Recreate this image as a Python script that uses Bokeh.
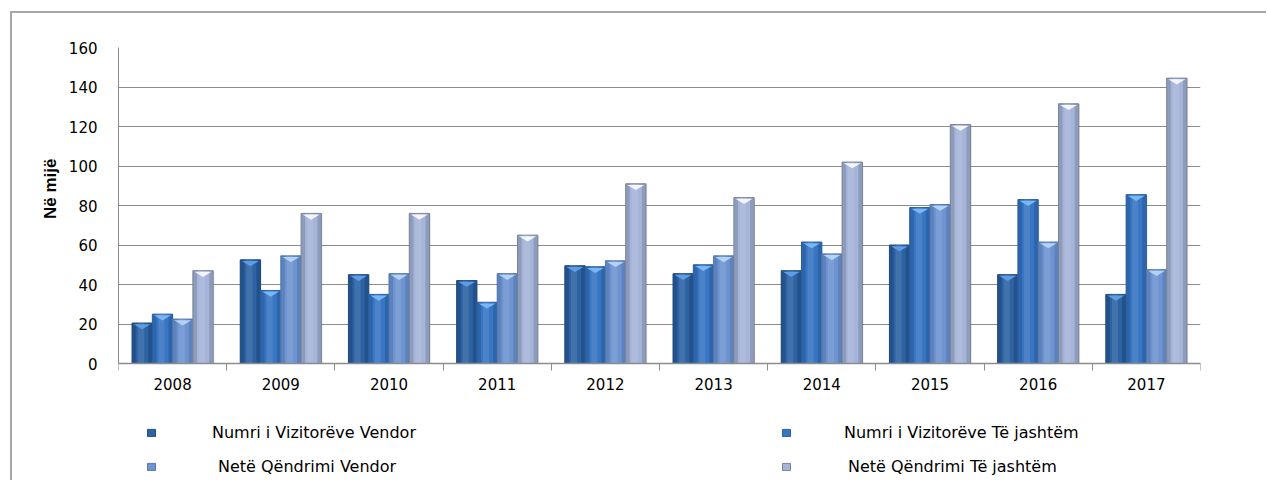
from bokeh.plotting import figure
from bokeh.models import Range1d, FixedTicker, Legend, LegendItem, Title
from bokeh.embed import file_html
from bokeh.resources import INLINE

# ---- data ----
years = ["2008", "2009", "2010", "2011", "2012", "2013", "2014", "2015", "2016", "2017"]
vizitore_vendor = [20.5, 52.5, 45, 42, 49.5, 45.5, 47, 60, 45, 35]
vizitore_jashtem = [25, 37, 35, 31, 49, 50, 61.5, 79, 83, 85.5]
qendrimi_vendor = [22.5, 54.5, 45.5, 45.5, 52, 54.5, 55.5, 80.5, 61.5, 47.5]
qendrimi_jashtem = [47, 76, 76, 65, 91, 84, 102, 121, 131.5, 144.5]
series_names = ["Numri i Vizitorëve Vendor", "Numri i Vizitorëve Të jashtëm",
                "Netë Qëndrimi Vendor", "Netë Qëndrimi Të jashtëm"]
y_ticks = [0, 20, 40, 60, 80, 100, 120, 140, 160]
y_label = "Në mijë"

# ---- styles ----
base_colors = ["#2D62A3", "#3875C2", "#6D94D0", "#A5B4D8"]
edge_colors = ["#183E6E", "#22528F", "#4A6CA3", "#737F99"]
tri_colors = ["#5E9DE6", "#78B6F4", "#B4D2F4", "#F2F6FC"]
outline_colors = ["#234E85", "#2C62A6", "#5779AE", "#7A8499"]
GRID = "#8c8c8c"
FONT = "DejaVu Sans"

# layout (pixels on the canvas)
CANVAS_W, CANVAS_H = 1256, 469
FRAME_TOP, FRAME_BOTTOM = 34, 466
ZERO_PX = 350  # where value 0 sits
Y_MAX = 160
px_per_unit = (ZERO_PX - FRAME_TOP) / Y_MAX
y_start = -(FRAME_BOTTOM - ZERO_PX) / px_per_unit

n = len(years)
centers = [i + 0.5 for i in range(n)]
bar_w = 0.1875
offsets = [-1.5 * bar_w, -0.5 * bar_w, 0.5 * bar_w, 1.5 * bar_w]

p = figure(width=CANVAS_W, height=CANVAS_H, output_backend="svg", toolbar_location=None,
           x_range=Range1d(0, n), y_range=Range1d(y_start, Y_MAX),
           min_border_left=106, min_border_right=68, min_border_top=FRAME_TOP,
           min_border_bottom=CANVAS_H - FRAME_BOTTOM)
p.margin = (11, 0, 0, 10)
p.styles = {"border-top": "2px solid #a6a6a6", "border-left": "2px solid #a6a6a6"}
p.outline_line_color = None
p.background_fill_color = "white"
p.border_fill_color = "white"

# grid
p.xgrid.grid_line_color = None
p.ygrid.grid_line_color = GRID
p.ygrid.grid_line_width = 1
p.ygrid.ticker = FixedTicker(ticks=y_ticks)

# y axis
p.yaxis.ticker = FixedTicker(ticks=y_ticks)
p.yaxis.bounds = (0, Y_MAX)
p.yaxis.axis_line_color = GRID
p.yaxis.major_tick_line_color = None
p.yaxis.minor_tick_line_color = None
p.yaxis.major_tick_out = 0
p.yaxis.major_tick_in = 0
p.yaxis.major_label_standoff = 21
p.yaxis.major_label_text_font = FONT
p.yaxis.major_label_text_font_size = "15px"
p.yaxis.major_label_text_color = "black"

# y axis title, placed near the upper half like the reference
ytitle = Title(text=y_label, align="right", offset=111, vertical_align="middle",
               text_font="Liberation Sans", text_font_style="bold",
               text_font_size="17px", text_color="black")
p.add_layout(ytitle, "left")

# x axis at value 0: labels at centers, tick marks at category boundaries
p.xaxis.fixed_location = 0
p.xaxis.ticker = FixedTicker(ticks=centers, minor_ticks=list(range(n + 1)))
p.xaxis.major_label_overrides = {c: y for c, y in zip(centers, years)}
p.xaxis.axis_line_color = GRID
p.xaxis.axis_line_width = 1.5
p.xaxis.major_tick_line_color = None
p.xaxis.major_tick_out = 0
p.xaxis.major_tick_in = 0
p.xaxis.minor_tick_line_color = GRID
p.xaxis.minor_tick_out = 7
p.xaxis.minor_tick_in = 0
p.xaxis.major_label_standoff = 7
p.xaxis.major_label_text_font = FONT
p.xaxis.major_label_text_font_size = "15px"
p.xaxis.major_label_text_color = "black"

all_vals = [vizitore_vendor, vizitore_jashtem, qendrimi_vendor, qendrimi_jashtem]
main_renderers = []
for s, vals in enumerate(all_vals):
    xs = [c + offsets[s] for c in centers]
    # soft shadow
    p.vbar(x=[x + 0.012 for x in xs], top=vals, width=bar_w, bottom=0,
           fill_color="black", fill_alpha=0.08, line_color=None)
    r = p.vbar(x=xs, top=vals, width=bar_w, bottom=0,
               fill_color=base_colors[s], line_color=outline_colors[s], line_width=1)
    main_renderers.append(r)
    # cylinder shading: darker edges, lighter middle
    p.vbar(x=[x - bar_w * 0.4 for x in xs], top=vals, width=bar_w * 0.2,
           fill_color=edge_colors[s], fill_alpha=0.45, line_color=None)
    p.vbar(x=[x + bar_w * 0.4 for x in xs], top=vals, width=bar_w * 0.2,
           fill_color=edge_colors[s], fill_alpha=0.45, line_color=None)
    p.vbar(x=[x - bar_w * 0.05 for x in xs], top=vals, width=bar_w * 0.3,
           fill_color="white", fill_alpha=0.10, line_color=None)
    # top cap highlight (V shape)
    px = [[x - bar_w * 0.42, x + bar_w * 0.42, x] for x in xs]
    py = [[v - 0.6, v - 0.6, v - 3.2] for v in vals]
    p.patches(xs=px, ys=py, fill_color=tri_colors[s], line_color=None)

# legends (one per item), inside the extended frame below the axis
legend_pos = [(28, 37, 56), (663, 37, 53), (28, 3, 62), (663, 3, 57)]
for s, (lx, ly, st) in enumerate(legend_pos):
    lg = Legend(items=[LegendItem(label=series_names[s], renderers=[main_renderers[s]])],
                location=(lx, ly), orientation="horizontal")
    lg.border_line_color = None
    lg.background_fill_alpha = 0
    lg.padding = 0
    lg.margin = 0
    lg.glyph_width = 10
    lg.glyph_height = 9
    lg.label_height = 18
    lg.label_standoff = st
    lg.label_text_font = FONT
    lg.label_text_font_size = "16px"
    lg.label_text_color = "black"
    p.add_layout(lg, "center")

open("out.html", "w").write(file_html(p, INLINE))
